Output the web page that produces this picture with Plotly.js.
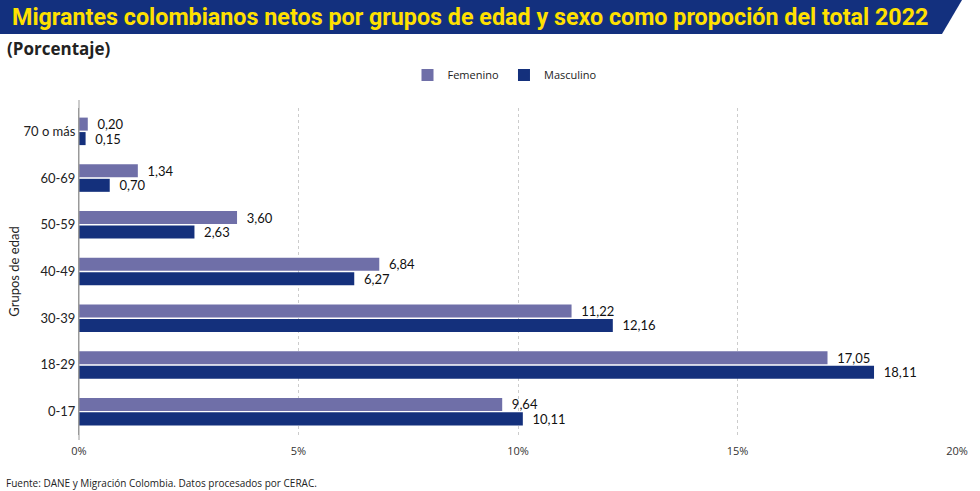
<!DOCTYPE html>
<html><head><meta charset="utf-8">
<script src="https://cdn.plot.ly/plotly-3.0.1.min.js"></script>
<style>html,body{margin:0;padding:0;background:#fff}#chart{width:980px;height:491px}</style>
</head><body><div id="chart"></div>
<script>
const categories = ["0-17","18-29","30-39","40-49","50-59","60-69","70 o más"];
const femenino = [9.64,17.05,11.22,6.84,3.60,1.34,0.20];
const masculino = [10.11,18.11,12.16,6.27,2.63,0.70,0.15];
const xTickVals = [0,5,10,15,20];
const xTickText = ["0%","5%","10%","15%","20%"];

const W=980,H=491,ML=79,MR=23,MT=108,MB=56;
const PW=W-ML-MR, PH=H-MT-MB;
const px=x=>(x-ML)/PW, py=y=>(H-MB-y)/PH;
const fmt=v=>'\u00a0\u00a0'+v.toFixed(2).replace('.',',');
const font="'Open Sans', Roboto, sans-serif";
const lfont="Lato, 'Open Sans', sans-serif";

const traces=[
 {type:'bar',orientation:'h',name:'Masculino',y:categories,x:masculino,
  marker:{color:'#14307c'},text:masculino.map(fmt),textposition:'outside',constraintext:'none',
  textfont:{color:'#111',size:13,family:lfont},cliponaxis:false,hoverinfo:'none'},
 {type:'bar',orientation:'h',name:'Femenino',y:categories,x:femenino,
  marker:{color:'#6f6fa8'},text:femenino.map(fmt),textposition:'outside',constraintext:'none',
  textfont:{color:'#111',size:13,family:lfont},cliponaxis:false,hoverinfo:'none'}
];
const layout={
 width:W,height:H,margin:{l:ML,r:MR,t:MT,b:MB},
 paper_bgcolor:'#fff',plot_bgcolor:'#fff',
 font:{family:font,color:'#222'},
 barmode:'group',bargap:0.38,bargroupgap:0.1,
 showlegend:true,
 legend:{orientation:'h',x:px(505),xanchor:'center',y:py(75),yanchor:'middle',
   traceorder:'reversed',font:{size:11,color:'#222'},itemwidth:30},
 xaxis:{range:[0,20],tickvals:xTickVals,ticktext:xTickText,showgrid:true,
   gridcolor:'#cccccc',griddash:'dot',gridwidth:1,zeroline:false,showline:false,
   tickfont:{size:11,color:'#333'},ticks:'',ticklabelstandoff:8},
 yaxis:{categoryorder:'array',categoryarray:categories,showline:true,linecolor:'#999',
   linewidth:1,ticks:'',tickfont:{size:13,color:'#222',family:lfont},showgrid:false,
   title:{text:'Grupos de edad',font:{size:13,color:'#222',family:lfont},standoff:0}},
 shapes:[
  {type:'path',xref:'paper',yref:'paper',layer:'below',
   path:`M ${px(0)} ${py(0)} L ${px(962)} ${py(0)} L ${px(942)} ${py(34)} L ${px(0)} ${py(34)} Z`,
   fillcolor:'#13307e',line:{width:0}},
  {type:'line',xref:'paper',yref:'paper',x0:0,x1:0,y0:py(440),y1:py(100),line:{color:'#999',width:1}}
 ],
 annotations:[
  {xref:'paper',yref:'paper',x:px(10),y:py(17),xanchor:'left',yanchor:'middle',showarrow:false,
   text:'<b>Migrantes colombianos netos por grupos de edad y sexo como propoción del total 2022</b>',
   font:{family:"Roboto,'Liberation Sans Narrow',sans-serif",size:23.3,color:'#ffe000'}},
  {xref:'paper',yref:'paper',x:px(5),y:py(48),xanchor:'left',yanchor:'middle',showarrow:false,
   text:'<b>(Porcentaje)</b>',font:{family:font,size:17,color:'#222'}},
  {xref:'paper',yref:'paper',x:px(4),y:py(483),xanchor:'left',yanchor:'middle',showarrow:false,
   text:'Fuente: DANE y Migración Colombia. Datos procesados por CERAC.',font:{family:font,size:10,color:'#222'}}
 ]
};
Plotly.newPlot('chart',traces,layout,{displayModeBar:false,staticPlot:true});
</script></body></html>
